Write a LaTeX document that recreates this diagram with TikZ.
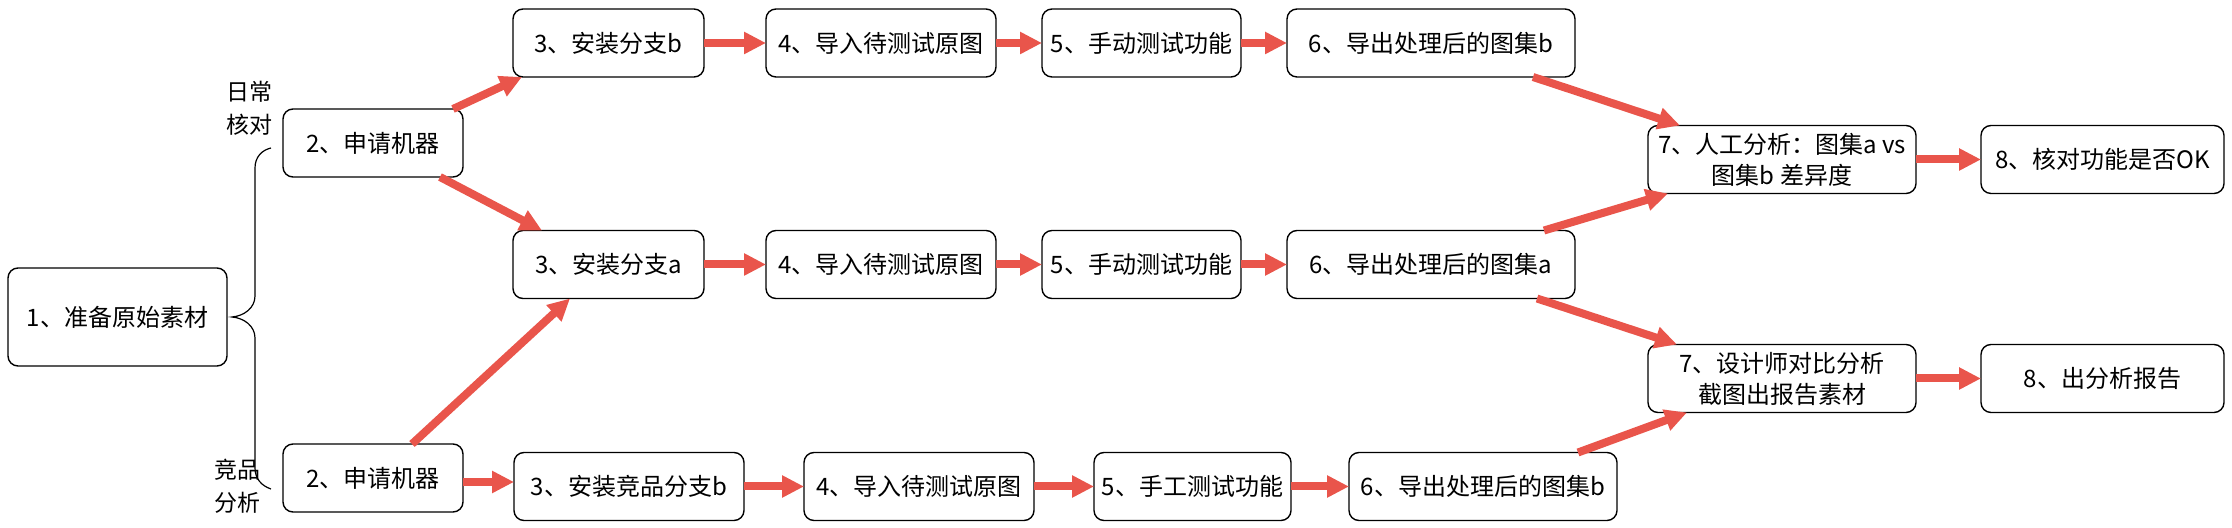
\documentclass[tikz,border=0pt]{standalone}
\usepackage{fontspec}
\setmainfont{Noto Sans CJK SC}
\usepackage{xcolor}
\usepackage{tikz}
\usetikzlibrary{arrows.meta, positioning}
\definecolor{flowred}{HTML}{E9554B}

\begin{document}
\begin{tikzpicture}[x=0.5pt, y=-0.5pt,
        stepbox/.style={
            draw=black,
            line width=0.7pt,
            rounded corners=5pt,
            minimum height=34pt,
            inner sep=1pt,
            outer sep=0pt,
            font=\fontsize{12pt}{15.5pt}\selectfont,
            align=center},
        tag/.style={
            inner sep=0pt,
            font=\fontsize{11.5pt}{16.5pt}\selectfont},
        flow/.style={
            flowred,
            line width=4pt,
            -{Triangle[length=11pt, width=10.5pt]}}]

    \useasboundingbox (0,0) rectangle (2232,528);

    \node[stepbox, minimum width=109.5pt, minimum height=49pt](prep) at (117.5,317) {1、准备原始素材};
    \node[stepbox, minimum width=90pt](applydaily) at (373,143) {2、申请机器};
    \node[stepbox, minimum width=90pt](applyrival) at (373,478) {2、申请机器};
    \node[tag, align=right, anchor=east](dailytag) at (273,108.5) {日常\\核对};
    \node[tag, align=left](rivaltag) at (237.5,486.5) {竞品\\分析};

    % branch b
    \node[stepbox, minimum width=95.5pt](installb) at (608.5,43) {3、安装分支b};
    \node[stepbox, minimum width=115pt, right=31pt of installb](importb) {4、导入待测试原图};
    \node[stepbox, minimum width=99.5pt, right=23pt of importb](testb) {5、手动测试功能};
    \node[stepbox, minimum width=144pt, right=23pt of testb](exportb) {6、导出处理后的图集b};

    % branch a
    \node[stepbox, minimum width=95.5pt](installa) at (608.5,264.5) {3、安装分支a};
    \node[stepbox, minimum width=115pt, right=31pt of installa](importa) {4、导入待测试原图};
    \node[stepbox, minimum width=99.5pt, right=23pt of importa](testa) {5、手动测试功能};
    \node[stepbox, minimum width=144pt, right=23pt of testa](exporta) {6、导出处理后的图集a};

    % rival branch
    \node[stepbox, minimum width=115pt](installrival) at (629,486.5) {3、安装竞品分支b};
    \node[stepbox, minimum width=115pt, right=30pt of installrival](importrival) {4、导入待测试原图};
    \node[stepbox, minimum width=98.5pt, right=30pt of importrival](testrival) {5、手工测试功能};
    \node[stepbox, minimum width=134pt, right=29pt of testrival](exportrival) {6、导出处理后的图集b};

    % results
    \node[stepbox, minimum width=134pt](compare) at (1782,159.5) {7、人工分析：图集a vs\\图集b 差异度};
    \node[stepbox, minimum width=121.5pt, right=32.5pt of compare](checkok) {8、核对功能是否OK};
    \node[stepbox, minimum width=134pt](designer) at (1782,378.5) {7、设计师对比分析\\截图出报告素材};
    \node[stepbox, minimum width=121.5pt, right=32.5pt of designer](report) {8、出分析报告};

    \draw[black, line width=0.6pt] (271,148) .. controls (262,150) and (255,157) .. (255,168) -- (255,296)
        .. controls (255,308) and (244,316) .. (232,317) .. controls (244,318) and (255,326) .. (255,338)
        -- (255,468) .. controls (255,479) and (262,486) .. (271,489);

    \draw[flow] ([xshift=-5pt]applydaily.north east) -- ([xshift=4.5pt]installb.south west);
    \draw[flow] ([xshift=-11.5pt]applydaily.south east) -- ([xshift=14.5pt]installa.north west);
    \draw[flow] ([xshift=-25.5pt]applyrival.north east) -- ([xshift=28.5pt]installa.south west);
    \draw[flow] ([yshift=-2pt]applyrival.east) -- ([yshift=-2pt]applyrival.east -| installrival.west);

    \foreach \from/\to in {installb/importb, importb/testb, testb/exportb,
                           installa/importa, importa/testa, testa/exporta,
                           installrival/importrival, importrival/testrival, testrival/exportrival,
                           compare/checkok, designer/report}
        \draw[flow] (\from) -- (\to);

    \draw[flow] ([xshift=-21pt]exportb.south east) -- ([xshift=16pt]compare.north west);
    \draw[flow] ([xshift=-15.5pt]exporta.north east) -- ([xshift=10pt]compare.south west);
    \draw[flow] ([xshift=-19pt]exporta.south east) -- ([xshift=14.5pt]designer.north west);
    \draw[flow] ([xshift=-19.5pt]exportrival.north east) -- ([xshift=19.5pt]designer.south west);
\end{tikzpicture}
\end{document}
